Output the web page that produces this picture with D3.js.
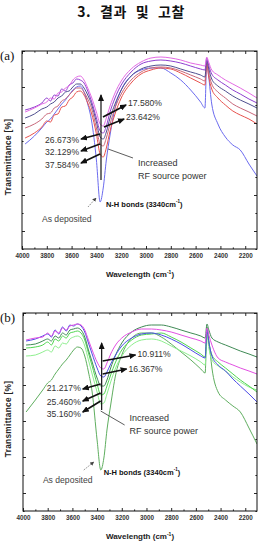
<!DOCTYPE html>
<html>
<head>
<meta charset="utf-8">
<script src="https://cdn.jsdelivr.net/npm/d3@7"></script>
<style>
  body { margin: 0; background: #fff; }
  svg { display: block; font-family: 'Liberation Sans', Arial, sans-serif; }
</style>
</head>
<body>
<svg id="chart" width="263" height="544"></svg>
<script>
// shared wavenumber grid (cm-1) for every spectrum
const wavenumbers = [3975, 3900, 3840, 3800, 3770, 3740, 3710, 3680, 3650, 3620, 3590, 3560, 3530, 3500, 3470, 3440, 3400, 3370, 3345, 3320, 3290, 3250, 3200, 3120, 3040, 2960, 2880, 2800, 2720, 2640, 2560, 2525, 2510, 2495, 2470, 2420, 2360, 2300, 2240, 2170, 2105]

// panel (a) transmittance, arbitrary %
const aAsDeposited = [52.5, 56.5, 60.5, 63.5, 65, 67.5, 70, 72.5, 74.5, 77, 79.5, 81, 81.5, 78.5, 72.5, 64.5, 44.5, 23.5, 30.5, 44.5, 57, 70.5, 79.5, 86.5, 89.5, 90.5, 90.5, 88, 84.5, 79.5, 73.5, 70.5, 93.5, 86.5, 72.5, 62.5, 56, 52, 49.5, 42.5, 36.5]
const a37584 = [55.5, 58, 61, 64, 63.5, 67, 67.5, 71, 71.5, 74.5, 76, 78.5, 79, 77, 73, 68, 57.5, 47.5, 46, 50.5, 59, 67.5, 75.5, 83, 87.5, 89.5, 90.5, 90, 88, 85.5, 83, 82, 92.5, 86.5, 80, 75.5, 72, 69, 67, 65, 62.5]
const a32129 = [60.5, 62.5, 65, 67.5, 68, 70.5, 71.5, 74, 75, 77, 79, 80.5, 80.5, 78.5, 75, 70.5, 60.5, 52.5, 51.5, 55.5, 62.5, 70.5, 77.5, 84.5, 88.5, 90.5, 91, 90.5, 89, 87, 85, 84, 93.5, 88.5, 82.5, 78.5, 75.5, 72.5, 70.5, 68.5, 66.5]
const a26673 = [65.5, 67.5, 70, 71, 72.5, 73.5, 75.5, 76.5, 78.5, 79, 81, 82.5, 82.5, 80.5, 77, 72.5, 63.5, 56, 55, 58.5, 65.5, 72.5, 79.5, 86.5, 90, 91.5, 92, 91.5, 90, 88.5, 87, 86, 94.5, 90.5, 85, 81.5, 79, 76.5, 74.5, 72.5, 70.5]
const a23642 = [69.5, 71, 73, 75.5, 74, 77, 76.5, 80, 79, 82, 83, 85, 84.5, 83, 79, 74, 65.5, 59, 58, 61.5, 68.5, 75.5, 82, 88.5, 92.5, 94, 94.5, 94, 93, 91.5, 90, 89.5, 95.5, 92, 87.5, 84.5, 82, 79.5, 77.5, 75, 73]
const a17580 = [68.5, 70.5, 72.5, 73.5, 75.5, 75, 78, 78.5, 80.5, 81.5, 84.5, 86, 86.5, 84.5, 80.5, 76, 68.5, 62.5, 61.5, 65.5, 71.5, 78, 84, 90, 93.5, 95.5, 96, 95.5, 94.5, 93, 92, 91.5, 96, 93.5, 89.5, 87, 84.5, 82.5, 80.5, 78, 75.5]

// panel (b)
const bAsDeposited = [49.5, 55.5, 60.5, 64, 65.5, 68.5, 71, 73.5, 75.5, 78, 80.5, 82, 81.5, 77.5, 69.5, 59.5, 35.5, 20.5, 26.5, 40.5, 53, 68, 78, 86.5, 89, 89, 87, 83.5, 79.5, 75.5, 71, 69, 92, 85.5, 71.5, 59.5, 55.5, 52.5, 49.5, 41.5, 33.5]
const b35160 = [77.5, 78, 79.5, 80.5, 79.5, 82.5, 81.5, 84, 83.5, 86, 87, 87.5, 86.5, 82.5, 75.5, 68.5, 59.5, 53.5, 54, 58.5, 64.5, 71.5, 77.5, 83, 85.5, 86, 85, 82.5, 80, 77.5, 74.5, 73, 87.5, 81.5, 75.5, 72.5, 70, 67, 64.5, 62, 60.5]
const b25460 = [81.5, 82, 83, 84.5, 83, 86, 85, 87.5, 86.5, 89, 89.5, 90, 89, 85.5, 79, 72.5, 63.5, 58, 58.5, 62.5, 68, 74.5, 80.5, 85.5, 88, 88.5, 89, 87, 84.5, 81.5, 78.5, 77, 89.5, 84, 78, 74.5, 71.5, 68.5, 65.5, 62.5, 59.5]
const b21217 = [83, 83.5, 85, 86, 85, 87.5, 86.5, 89, 88, 90.5, 91, 91.5, 90.5, 87, 80.5, 74.5, 66.5, 62.5, 62.5, 65.5, 71.5, 78, 84, 89.5, 92, 93, 93, 92, 90.5, 89, 87.5, 86.5, 93.5, 90.5, 86.5, 84.5, 83, 81.5, 80, 78.5, 77]
const b16367 = [85, 86, 87.5, 88.5, 87, 90.5, 88.5, 92, 90, 93, 92.5, 93.5, 92.5, 89.5, 84, 78.5, 71.5, 67.5, 67, 69.5, 73.5, 78, 82.5, 86.5, 88.5, 89, 88, 86, 83.5, 80.5, 77.5, 76.5, 90.5, 84.5, 77.5, 73, 70, 66, 62.5, 58.5, 54.5]
const b10911 = [85.5, 86.5, 87, 89, 87.5, 90, 89, 91.5, 90.5, 92.5, 93, 93.5, 93, 90.5, 85.5, 80.5, 74.5, 71.5, 71, 74, 78.5, 83, 86.5, 89.5, 91, 91, 90.5, 89.5, 88, 86.5, 85, 84, 91.5, 88, 83, 76.5, 74.5, 73, 71.5, 70, 68.5]

const xTicks = [4000, 3800, 3600, 3400, 3200, 3000, 2800, 2600, 2400, 2200]
const yTicks = [9, 27, 45, 63, 81, 99]

const panels = [
  {
    tag: '(a)', top: 51, bottom: 249, left: 22, right: 257,
    series: [
      { values: aAsDeposited, color: '#6b6bef' },
      { values: a37584, color: '#e8524e' },
      { values: a32129, color: '#c8677a' },
      { values: a26673, color: '#4f4f8f' },
      { values: a23642, color: '#8e3fcf' },
      { values: a17580, color: '#e46ae4' },
    ],
    upArrow: [3363, 34.5, 77],
    arrows: [
      [3347, 66, 3161, 72], [3339, 61, 3177, 65],
      [3371, 57.5, 3524, 55], [3371, 52.5, 3524, 49], [3371, 47.5, 3524, 43],
    ],
    labels: [
      ['17.580%', 3145, 73, 'start'], ['23.642%', 3161, 66, 'start'],
      ['26.673%', 3540, 54.5, 'end'], ['32.129%', 3540, 48.5, 'end'], ['37.584%', 3540, 42, 'end'],
    ],
    powerLine: [3306, 50, 3105, 45.5], powerText: [3065, 43, 36.5],
    nh: [3323, 22.5], asDep: [3839, 15], asDepArrow: [3468, 21, 3403, 25.5],
  },
  {
    tag: '(b)', top: 313, bottom: 511, left: 23, right: 257,
    series: [
      { values: bAsDeposited, color: '#5fae5f' },
      { values: b35160, color: '#8eef8e' },
      { values: b25460, color: '#4fd64f' },
      { values: b21217, color: '#3f8a55' },
      { values: b16367, color: '#4d4de6' },
      { values: b10911, color: '#e250e2' },
    ],
    upArrow: [3363, 50.5, 84],
    arrows: [
      [3355, 75, 3089, 78], [3355, 68.5, 3161, 71],
      [3371, 63.5, 3516, 61], [3371, 59, 3516, 55], [3371, 55, 3516, 49.5],
    ],
    labels: [
      ['10.911%', 3073, 78.5, 'start'], ['16.367%', 3145, 71, 'start'],
      ['21.217%', 3532, 61.5, 'end'], ['25.460%', 3532, 54.5, 'end'], ['35.160%', 3532, 48.5, 'end'],
    ],
    powerLine: [3371, 50, 3177, 43], powerText: [3137, 46.5, 40],
    nh: [3347, 19.5], asDep: [3839, 15.5], asDepArrow: [3508, 20.5, 3427, 24.5],
  },
]

const svg = d3.select('#chart')

const defs = svg.append('defs')
defs.append('marker').attr('id', 'head')
  .attr('markerUnits', 'userSpaceOnUse')
  .attr('markerWidth', 7).attr('markerHeight', 6)
  .attr('refX', 6).attr('refY', 3).attr('orient', 'auto')
  .append('path').attr('d', 'M0,0 L7,3 L0,6 Z').attr('fill', '#111')
defs.append('marker').attr('id', 'headSmall')
  .attr('markerUnits', 'userSpaceOnUse')
  .attr('markerWidth', 4).attr('markerHeight', 4)
  .attr('refX', 3.5).attr('refY', 2).attr('orient', 'auto')
  .append('path').attr('d', 'M0,0 L4,2 L0,4 Z').attr('fill', '#444')

svg.append('text')
  .attr('x', 131).attr('y', 17)
  .attr('text-anchor', 'middle')
  .style('font-family', "'Noto Sans CJK KR', sans-serif")
  .style('font-weight', 'bold').style('font-size', '14px')
  .style('word-spacing', '5px').style('letter-spacing', '0.6px')
  .attr('fill', '#111')
  .text('3. 결과 및 고찰')

panels.forEach(drawPanel)

function drawPanel(p) {
  const x = d3.scaleLinear().domain([4000, 2105]).range([p.left, p.right])
  const y = d3.scaleLinear().domain([0, 99]).range([p.bottom, p.top])
  const g = svg.append('g')

  g.append('text')
    .attr('x', 0).attr('y', p.top + 9)
    .style('font-family', "'Liberation Serif', 'DejaVu Serif', serif")
    .style('font-size', '13px')
    .attr('fill', '#111')
    .text(p.tag)

  const line = d3.line()
    .x((d, i) => x(wavenumbers[i]))
    .y((d) => y(d))
    .curve(d3.curveMonotoneX)

  const clipId = 'clip' + p.tag.replace(/\W/g, '')
  defs.append('clipPath').attr('id', clipId)
    .append('rect')
    .attr('x', p.left).attr('y', p.top)
    .attr('width', p.right - p.left).attr('height', p.bottom - p.top)

  g.append('g').attr('clip-path', `url(#${clipId})`)
    .selectAll('path')
    .data(p.series)
    .enter()
    .append('path')
    .attr('d', (s) => line(s.values))
    .attr('fill', 'none')
    .attr('stroke', (s) => s.color)
    .attr('stroke-width', 1)
    .attr('stroke-linejoin', 'round')

  // inward ticks on all four sides
  const minorX = d3.range(2200, 4001, 100).filter((v) => v % 200 !== 0)
  const minorY = yTicks.map((v) => v - 9)
  const sides = [
    [d3.axisBottom(x), `translate(0,${p.bottom})`, xTicks, minorX],
    [d3.axisTop(x), `translate(0,${p.top})`, xTicks, minorX],
    [d3.axisLeft(y), `translate(${p.left},0)`, yTicks, minorY],
    [d3.axisRight(y), `translate(${p.right},0)`, yTicks, minorY],
  ]
  sides.forEach(([axis, tr, major, minor]) => {
    g.append('g').attr('transform', tr)
      .call(axis.tickValues(major).tickSizeInner(-3).tickSizeOuter(0).tickFormat(''))
      .call((sel) => sel.select('.domain').remove())
    g.append('g').attr('transform', tr)
      .call(axis.tickValues(minor).tickSizeInner(-1.6).tickSizeOuter(0).tickFormat(''))
      .call((sel) => sel.select('.domain').remove())
  })
  g.selectAll('.tick line').attr('stroke', '#111').attr('stroke-width', 0.9)

  g.append('rect')
    .attr('x', p.left).attr('y', p.top)
    .attr('width', p.right - p.left).attr('height', p.bottom - p.top)
    .attr('fill', 'none').attr('stroke', '#111').attr('stroke-width', 1)

  // tick labels
  g.append('g').attr('transform', `translate(0,${p.bottom})`)
    .call(d3.axisBottom(x).tickValues(xTicks).tickSize(0).tickPadding(4.5).tickFormat(d3.format('d')))
    .call((sel) => sel.select('.domain').remove())
    .selectAll('text')
    .style('font-family', "'Liberation Sans', Arial, sans-serif")
    .style('font-size', '6.3px').style('font-weight', 'bold')
    .attr('fill', '#333')

  const xt = g.append('text')
    .attr('x', 140).attr('y', p.bottom + 28)
    .attr('text-anchor', 'middle')
    .style('font-size', '8px').style('font-weight', 'bold')
    .attr('fill', '#222')
  xt.append('tspan').text('Wavelength (cm')
  xt.append('tspan').attr('dy', -3).style('font-size', '5px').text('-1')
  xt.append('tspan').attr('dy', 3).text(')')

  const cy = (p.top + p.bottom) / 2 + 7
  g.append('text')
    .attr('transform', `translate(11,${cy}) rotate(-90)`)
    .attr('text-anchor', 'middle')
    .style('font-size', '8.3px').style('font-weight', 'bold')
    .style('letter-spacing', '0.3px')
    .attr('fill', '#222')
    .text('Transmittance [%]')

  // annotations
  const [uw, u0, u1] = p.upArrow
  g.append('line')
    .attr('x1', x(uw)).attr('y1', y(u0)).attr('x2', x(uw)).attr('y2', y(u1))
    .attr('stroke', '#111').attr('stroke-width', 1.2)
    .attr('marker-end', 'url(#head)')

  g.selectAll('.pct-arrow')
    .data(p.arrows)
    .enter()
    .append('line')
    .attr('x1', (d) => x(d[0])).attr('y1', (d) => y(d[1]))
    .attr('x2', (d) => x(d[2])).attr('y2', (d) => y(d[3]))
    .attr('stroke', '#111').attr('stroke-width', 1.7)
    .attr('marker-end', 'url(#head)')

  g.selectAll('.pct')
    .data(p.labels)
    .enter()
    .append('text')
    .attr('x', (d) => x(d[1])).attr('y', (d) => y(d[2]))
    .attr('text-anchor', (d) => d[3])
    .attr('dominant-baseline', 'central')
    .style('font-size', '8.6px')
    .attr('fill', '#333')
    .text((d) => d[0])

  const [pw0, pt0, pw1, pt1] = p.powerLine
  g.append('line')
    .attr('x1', x(pw0)).attr('y1', y(pt0)).attr('x2', x(pw1)).attr('y2', y(pt1))
    .attr('stroke', '#333').attr('stroke-width', 0.8)
  const [tw, t1, t2] = p.powerText
  g.append('text').attr('x', x(tw)).attr('y', y(t1))
    .attr('dominant-baseline', 'central')
    .style('font-size', '9px').attr('fill', '#333').text('Increased')
  g.append('text').attr('x', x(tw)).attr('y', y(t2))
    .attr('dominant-baseline', 'central')
    .style('font-size', '9px').attr('fill', '#333').text('RF source power')

  const nh = g.append('text').attr('x', x(p.nh[0])).attr('y', y(p.nh[1]))
    .attr('dominant-baseline', 'central')
    .style('font-size', '7.5px').style('font-weight', 'bold').attr('fill', '#111')
  nh.append('tspan').text('N-H bonds (3340cm')
  nh.append('tspan').attr('dy', -3).style('font-size', '4.5px').text('-1')
  nh.append('tspan').attr('dy', 3).text(')')

  g.append('text').attr('x', x(p.asDep[0])).attr('y', y(p.asDep[1]))
    .attr('dominant-baseline', 'central')
    .style('font-size', '8.6px').attr('fill', '#444').text('As deposited')

  const [aw0, at0, aw1, at1] = p.asDepArrow
  g.append('line')
    .attr('x1', x(aw0)).attr('y1', y(at0)).attr('x2', x(aw1)).attr('y2', y(at1))
    .attr('stroke', '#444').attr('stroke-width', 0.6)
    .attr('stroke-dasharray', '1.5,1')
    .attr('marker-end', 'url(#headSmall)')
}
</script>
</body>
</html>
